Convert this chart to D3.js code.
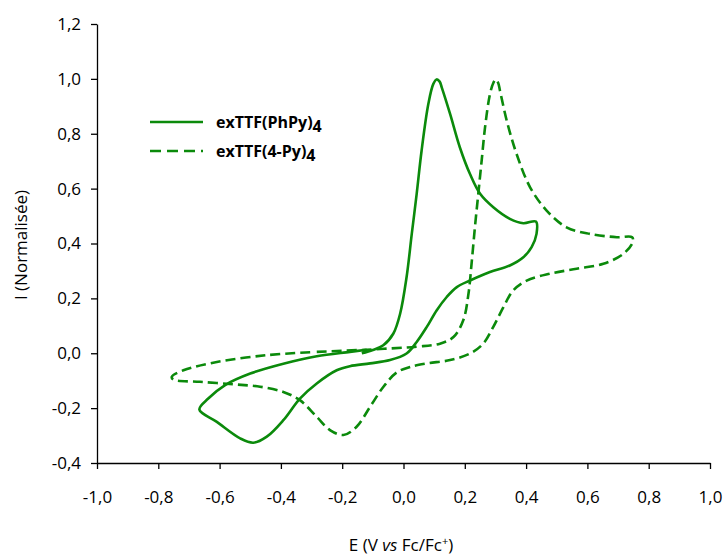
<!DOCTYPE html>
<html>
<head>
<meta charset="utf-8">
<script src="https://cdn.jsdelivr.net/npm/d3@7"></script>
<style>
  html, body { margin: 0; padding: 0; background: #fff; }
  svg { display: block; }
  text { font-family: "Open Sans", "Noto Sans", sans-serif; fill: #000; }
</style>
</head>
<body>
<svg id="chart" width="724" height="555"></svg>
<script>
// ---- Data (E in V vs Fc/Fc+, I normalised) ----
const xTicks = [-1.0, -0.8, -0.6, -0.4, -0.2, 0.0, 0.2, 0.4, 0.6, 0.8, 1.0];
const yTicks = [-0.4, -0.2, 0.0, 0.2, 0.4, 0.6, 0.8, 1.0, 1.2];

const seriesNames = ["exTTF(PhPy)", "exTTF(4-Py)"];
const seriesSub = ["4", "4"];

const solidE = [-0.136, -0.100, -0.066, -0.033, -0.011, 0.010, 0.027, 0.043, 0.059, 0.081, 0.097, 0.108, 0.118, 0.125, 0.152, 0.184, 0.217, 0.250, 0.293, 0.347, 0.391, 0.432, 0.434, 0.418, 0.391, 0.347, 0.282, 0.217, 0.174, 0.141, 0.108, 0.076, 0.043, 0.010, -0.044, -0.109, -0.175, -0.218, -0.283, -0.338, -0.392, -0.446, -0.490, -0.533, -0.609, -0.666, -0.637, -0.582, -0.500, -0.392, -0.283, -0.175, -0.120];
const solidI = [0.000, 0.012, 0.029, 0.072, 0.144, 0.277, 0.435, 0.581, 0.738, 0.908, 0.981, 0.998, 0.990, 0.968, 0.872, 0.750, 0.653, 0.581, 0.532, 0.490, 0.474, 0.480, 0.435, 0.387, 0.350, 0.320, 0.296, 0.265, 0.241, 0.205, 0.156, 0.096, 0.041, -0.001, -0.025, -0.037, -0.047, -0.062, -0.110, -0.165, -0.244, -0.304, -0.326, -0.310, -0.250, -0.205, -0.165, -0.116, -0.074, -0.038, -0.011, 0.005, 0.013];

const dashedE = [-0.283, -0.120, 0.043, 0.119, 0.163, 0.195, 0.212, 0.223, 0.233, 0.244, 0.255, 0.266, 0.282, 0.293, 0.301, 0.309, 0.315, 0.337, 0.369, 0.413, 0.467, 0.532, 0.608, 0.696, 0.746, 0.748, 0.717, 0.652, 0.565, 0.478, 0.402, 0.358, 0.326, 0.293, 0.260, 0.217, 0.152, 0.076, 0.021, -0.022, -0.066, -0.109, -0.153, -0.196, -0.240, -0.283, -0.338, -0.392, -0.468, -0.555, -0.664, -0.751, -0.756, -0.718, -0.609, -0.446, -0.300];
const dashedI = [0.005, 0.013, 0.024, 0.035, 0.059, 0.120, 0.217, 0.338, 0.459, 0.581, 0.702, 0.823, 0.944, 0.985, 0.998, 0.985, 0.956, 0.847, 0.726, 0.605, 0.520, 0.459, 0.435, 0.423, 0.423, 0.405, 0.362, 0.326, 0.308, 0.290, 0.265, 0.229, 0.168, 0.096, 0.035, -0.001, -0.025, -0.037, -0.050, -0.070, -0.123, -0.195, -0.268, -0.298, -0.280, -0.232, -0.171, -0.141, -0.122, -0.113, -0.104, -0.096, -0.086, -0.062, -0.032, -0.007, 0.004];

// ---- Layout ----
const svg = d3.select("#chart");
const mLeft = 97, mRight = 710, mTop = 24, mBottom = 463;
const green = "#0b8a0b";
const fmt = d => d3.format(".1f")(d).replace(".", ",").replace("−", "-");

const x = d3.scaleLinear().domain([-1, 1]).range([mLeft, mRight]);
const y = d3.scaleLinear().domain([-0.4, 1.2]).range([mBottom, mTop]);

// Axes
const xAxis = svg.append("g").attr("transform", `translate(0,${mBottom})`)
  .call(d3.axisBottom(x).tickValues(xTicks).tickFormat(fmt).tickSize(6).tickPadding(22).tickSizeOuter(0));
const yAxis = svg.append("g").attr("transform", `translate(${mLeft},0)`)
  .call(d3.axisLeft(y).tickValues(yTicks).tickFormat(fmt).tickSize(6).tickPadding(10).tickSizeOuter(0));

[xAxis, yAxis].forEach(a => {
  a.selectAll("path.domain").attr("stroke", "#000").attr("stroke-width", 1.3);
  a.selectAll(".tick line").attr("stroke", "#000").attr("stroke-width", 1.3);
  a.selectAll(".tick text").attr("font-size", 17).attr("font-family", "'Open Sans', sans-serif").attr("fill", "#000");
});

// Axis titles
const xt = svg.append("text").attr("x", 401).attr("y", 551).attr("text-anchor", "middle").attr("font-size", 17);
xt.append("tspan").text("E (V ");
xt.append("tspan").attr("font-style", "italic").text("vs");
xt.append("tspan").text(" Fc/Fc");
xt.append("tspan").attr("font-size", 11).attr("dy", -6).text("+");
xt.append("tspan").attr("dy", 6).text(")");

svg.append("text").attr("transform", `translate(27,245) rotate(-90)`)
  .attr("text-anchor", "middle").attr("font-size", 17).text("I (Normalisée)");

// Curves
const line = d3.line().x(d => x(d[0])).y(d => y(d[1])).curve(d3.curveCatmullRom.alpha(0.5));
const solidPts = solidE.map((e, i) => [e, solidI[i]]);
const dashedPts = dashedE.map((e, i) => [e, dashedI[i]]);

svg.append("path").attr("d", line(dashedPts)).attr("fill", "none")
  .attr("stroke", green).attr("stroke-width", 2.6).attr("stroke-dasharray", "10,5");
svg.append("path").attr("d", line(solidPts)).attr("fill", "none")
  .attr("stroke", green).attr("stroke-width", 2.6);

// Legend
const legY = [122, 151];
const dashes = [null, "11,6"];
seriesNames.forEach((name, i) => {
  svg.append("line").attr("x1", 150).attr("x2", 203).attr("y1", legY[i]).attr("y2", legY[i])
    .attr("stroke", green).attr("stroke-width", 2.6).attr("stroke-dasharray", dashes[i]);
  const t = svg.append("text").attr("x", 216).attr("y", legY[i] + 6)
    .attr("font-size", 16).attr("font-weight", "bold");
  t.append("tspan").text(name);
  t.append("tspan").attr("dy", 4).text(seriesSub[i]);
});
</script>
</body>
</html>
